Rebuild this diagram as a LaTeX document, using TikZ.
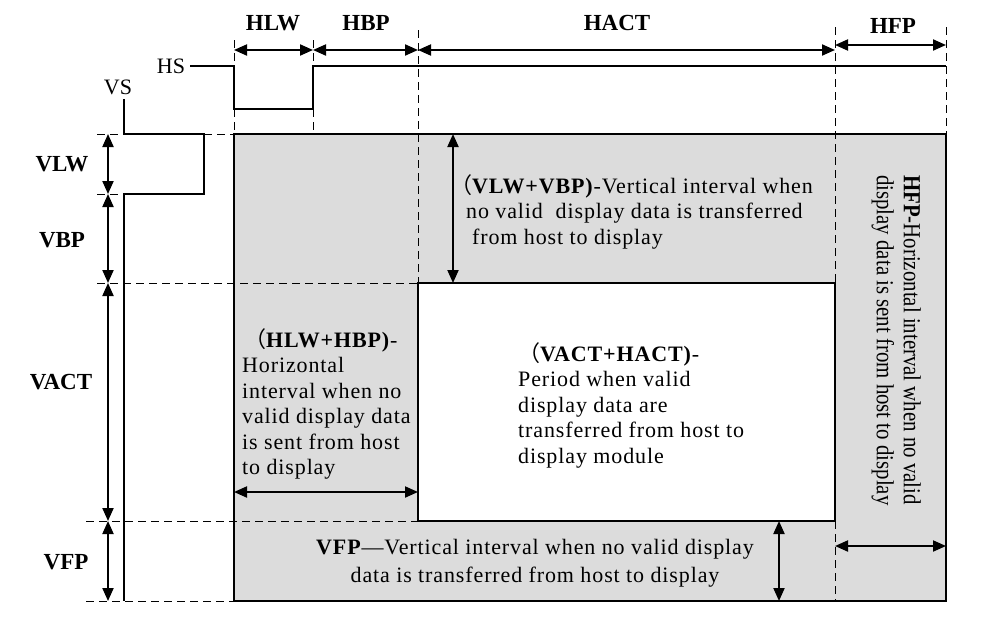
\documentclass[tikz,border=0pt]{standalone}
\usepackage{fontspec}
\setmainfont{Liberation Serif}
\newfontfamily\cjk{Noto Sans CJK SC}
\usetikzlibrary{arrows.meta}
\definecolor{panelgray}{RGB}{220,220,220}
\tikzset{
  dim/.style={line width=2pt, {Triangle[length=13pt,width=11pt]}-{Triangle[length=13pt,width=11pt]}},
  guide/.style={line width=1pt, dash pattern=on 8pt off 5pt},
  sig/.style={line width=1.2pt},
  lbl/.style={font=\fontsize{23}{26}\selectfont\bfseries, inner sep=0pt},
  sml/.style={font=\fontsize{22}{25}\selectfont, inner sep=0pt},
  body/.style={font=\fontsize{22}{25.5}\selectfont\addfontfeature{LetterSpace=4}, inner sep=0pt, align=left},
}
\newcommand{\fwparen}{{\cjk （}}
\begin{document}
\begin{tikzpicture}[x=1pt,y=-1pt]
\useasboundingbox (0,0) rectangle (996,637);
% columns
\coordinate (cA) at (108,0);
\coordinate (cV) at (124,0);
\coordinate (cVr) at (204,0);
\coordinate (c0) at (234,0);
\coordinate (c1) at (313,0);
\coordinate (c2) at (418,0);
\coordinate (c3) at (835,0);
\coordinate (c4) at (946,0);
\coordinate (cI) at (453,0);
\coordinate (cF) at (779,0);
\coordinate (cHS) at (190,0);
\coordinate (cD1) at (97,0);
\coordinate (cD2) at (86,0);
% rows
\coordinate (rT1) at (0,40);
\coordinate (rT2) at (0,30);
\coordinate (rT3) at (0,27);
\coordinate (rD) at (0,50);
\coordinate (rDF) at (0,45);
\coordinate (rS) at (0,66);
\coordinate (rSL) at (0,109);
\coordinate (rVS) at (0,99);
\coordinate (r0) at (0,134);
\coordinate (r1) at (0,194);
\coordinate (r2) at (0,283);
\coordinate (r3) at (0,521);
\coordinate (r4) at (0,601);
\coordinate (rB) at (0,492);
\coordinate (rF) at (0,546);

% panels
\fill[panelgray] (c0|-r0) rectangle (c4|-r4);
\draw[sig, fill=white] (c2|-r2) rectangle (c3|-r3);
\draw[sig] (c0|-r0) rectangle (c4|-r4);

% guides
\draw[guide] (c0|-rT1) -- (c0|-rS);
\draw[guide] (c0|-rSL) -- (c0|-r0);
\draw[guide] (c1|-rT1) -- (c1|-rS);
\draw[guide] (c1|-rSL) -- (c1|-r0);
\draw[guide] (c2|-rT2) -- (c2|-r2);
\draw[guide] (c3|-rT3) -- (c3|-r2);
\draw[guide] (c3|-r3) -- (c3|-r4);
\draw[guide] (c4|-rT3) -- (c4|-r0);
\draw[guide] (cD1|-r0) -- (cV|-r0);
\draw[guide] (cVr|-r0) -- (c0|-r0);
\draw[guide] (cD1|-r1) -- (cV|-r1);
\draw[guide] (cD1|-r2) -- (c2|-r2);
\draw[guide] (cD2|-r3) -- (c2|-r3);
\draw[guide] (cD2|-r4) -- (c0|-r4);

% signals
\draw[sig] (cHS|-rS) -- (c0|-rS) -- (c0|-rSL) -- (c1|-rSL) -- (c1|-rS) -- (c4|-rS);
\draw[sig] (cV|-rVS) -- (cV|-r0) -- (cVr|-r0) -- (cVr|-r1) -- (cV|-r1) -- (cV|-r4);

% dimension arrows
\draw[dim] (c0|-rD) -- (c1|-rD);
\draw[dim] (c1|-rD) -- (c2|-rD);
\draw[dim] (c2|-rD) -- (c3|-rD);
\draw[dim] (c3|-rDF) -- (c4|-rDF);
\draw[dim] (cA|-r0) -- (cA|-r1);
\draw[dim] (cA|-r1) -- (cA|-r2);
\draw[dim] (cA|-r2) -- (cA|-r3);
\draw[dim] (cA|-r3) -- (cA|-r4);
\draw[dim] (cI|-r0) -- (cI|-r2);
\draw[dim] (c0|-rB) -- (c2|-rB);
\draw[dim] (cF|-r3) -- (cF|-r4);
\draw[dim] (c3|-rF) -- (c4|-rF);

% labels
\node[lbl] (tHLW) at (273,23) {HLW};
\node[lbl] (tHBP) at (366,23) {HBP};
\node[lbl] (tHACT) at (617,23) {HACT};
\node[lbl] (tHFP) at (893,26) {HFP};
\node[lbl] (tVLW) at (62,164) {VLW};
\node[lbl] (tVBP) at (62,240) {VBP};
\node[lbl] (tVACT) at (61,382) {VACT};
\node[lbl] (tVFP) at (66,562) {VFP};
\node[sml] (tHS) at (171,66) {HS};
\node[sml] (tVS) at (118,87) {VS};

% text blocks
\node[body, anchor=north west] (bTop) at (450,174)
  {\fwparen\textbf{VLW+VBP)}-Vertical interval when\\
   \hspace*{16pt}no valid\ \ display data is transferred\\
   \hspace*{22pt}from host to display};
\node[body, anchor=north west] (bLeft) at (242,328)
  {\hspace*{2pt}\fwparen\textbf{HLW+HBP)}-\\
   Horizontal\\
   interval when no\\
   valid display data\\
   is sent from host\\
   to display};
\node[body, anchor=north west] (bMid) at (518,342)
  {\fwparen\textbf{VACT+HACT)}-\\
   Period when valid\\
   display data are\\
   transferred from host to\\
   display module};
\node[body, align=center, font=\fontsize{22}{28}\selectfont\addfontfeature{LetterSpace=4}] (bBot) at (535,563)
  {\textbf{VFP}---Vertical interval when no valid display\\
   data is transferred from host to display};
\node[inner sep=0pt, rotate=-90, anchor=north west] (bRight) at (923,175)
  {\scalebox{0.85}[1]{\fontsize{24.5}{27}\selectfont
   \begin{tabular}{@{}l@{}}
   \textbf{HFP}-Horizontal interval when no valid\\
   display data is sent from host to display
   \end{tabular}}};
\end{tikzpicture}
\end{document}
